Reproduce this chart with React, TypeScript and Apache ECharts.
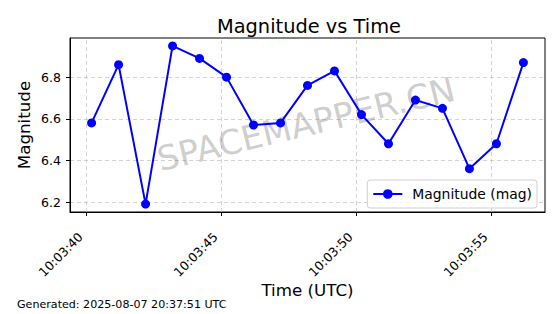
import React, { useEffect, useRef } from "react";
import * as echarts from "echarts";

const seconds = [40.2, 41.2, 42.2, 43.2, 44.2, 45.2, 46.2, 47.2, 48.2, 49.2, 50.2, 51.2, 52.2, 53.2, 54.2, 55.2, 56.2];
const magnitudes = [6.58, 6.86, 6.19, 6.95, 6.89, 6.8, 6.57, 6.58, 6.76, 6.83, 6.62, 6.48, 6.69, 6.65, 6.36, 6.48, 6.87];
const xTicks = [40, 45, 50, 55];
const yTicks = [6.2, 6.4, 6.6, 6.8];
const timePrefix = "10:03:";

const FONT = "DejaVu Sans";

export default function App() {
  const ref = useRef<HTMLDivElement>(null);
  useEffect(() => {
    if (!ref.current) return;
    const chart = echarts.init(ref.current, undefined, { renderer: "svg" });
    const gridLine = { color: "#b0b0b0", type: [4, 3] as any, width: 0.8, opacity: 0.7 };
    chart.setOption({
      animation: false,
      backgroundColor: "#fff",
      textStyle: { fontFamily: FONT },
      title: {
        text: "Magnitude vs Time",
        left: 304,
        top: 12,
        textAlign: "center",
        textStyle: { fontFamily: FONT, fontSize: 19.4, fontWeight: "normal", color: "#000" },
      },
      grid: { left: 70, right: 15, top: 38, bottom: 102, show: true, borderColor: "#000", borderWidth: 1, backgroundColor: "transparent" },
      legend: {
        right: 23,
        top: 180,
        data: ["Magnitude (mag)"],
        itemWidth: 29,
        itemHeight: 12,
        padding: [7, 5, 7, 5],
        borderColor: "#d0d0d0",
        borderWidth: 1,
        borderRadius: 3,
        backgroundColor: "rgba(255,255,255,0.8)",
        textStyle: { fontFamily: FONT, fontSize: 13.9, color: "#000", padding: [0, 0, 0, 5] },
      },
      xAxis: {
        type: "value",
        min: 39.4,
        max: 57.0,
        name: "Time (UTC)",
        nameLocation: "middle",
        nameGap: 69,
        nameMoveOverlap: false,
        nameTextStyle: { fontFamily: FONT, fontSize: 16.7, color: "#000" },
        axisLine: { show: true, lineStyle: { color: "#000" } },
        axisTick: { show: true, inside: false, length: 4, customValues: xTicks, lineStyle: { color: "#000" } },
        axisLabel: {
          customValues: xTicks,
          rotate: 45,
          fontFamily: FONT,
          fontSize: 12.5,
          color: "#000",
          margin: 17,
          padding: [0, 8, 0, 0],
          formatter: (v: number) => timePrefix + String(Math.round(v)).padStart(2, "0"),
        },
        splitLine: { show: false },
      },
      yAxis: {
        type: "value",
        min: 6.152,
        max: 6.988,
        name: "Magnitude",
        nameLocation: "middle",
        nameGap: 38,
        nameMoveOverlap: false,
        nameTextStyle: { fontFamily: FONT, fontSize: 16.7, color: "#000" },
        axisLine: { show: true, lineStyle: { color: "#000" } },
        axisTick: { show: true, inside: false, length: 4, customValues: yTicks, lineStyle: { color: "#000" } },
        axisLabel: {
          customValues: yTicks,
          fontFamily: FONT,
          fontSize: 12.5,
          color: "#000",
          margin: 9,
          formatter: (v: number) => v.toFixed(1),
        },
        splitLine: { show: false },
      },
      graphic: [
        {
          type: "text",
          x: 306,
          y: 124,
          rotation: (13.5 * Math.PI) / 180,
          style: {
            text: "SPACEMAPPER.CN",
            fontFamily: FONT,
            fontSize: 34,
            fill: "rgba(128,128,128,0.4)",
            align: "center",
            verticalAlign: "middle",
          },
          z: 1,
        },
        {
          type: "text",
          left: 17,
          top: 299,
          style: { text: "Generated: 2025-08-07 20:37:51 UTC", fontFamily: FONT, fontSize: 11.1, fill: "#000" },
        },
      ],
      series: [
        {
          name: "Magnitude (mag)",
          type: "line",
          data: seconds.map((s, i) => [s, magnitudes[i]]),
          symbol: "circle",
          symbolSize: 9,
          itemStyle: { color: "#0000ff" },
          lineStyle: { color: "#0000ff", width: 2 },
          z: 3,
          markLine: {
            silent: true,
            symbol: "none",
            label: { show: false },
            lineStyle: gridLine,
            data: [...xTicks.map((x) => ({ xAxis: x })), ...yTicks.map((y) => ({ yAxis: y }))],
            z: 0,
          },
        },
      ],
    });
    return () => chart.dispose();
  }, []);
  return <div ref={ref} style={{ width: 560, height: 314, position: "absolute", left: 0, top: 0 }} />;
}
